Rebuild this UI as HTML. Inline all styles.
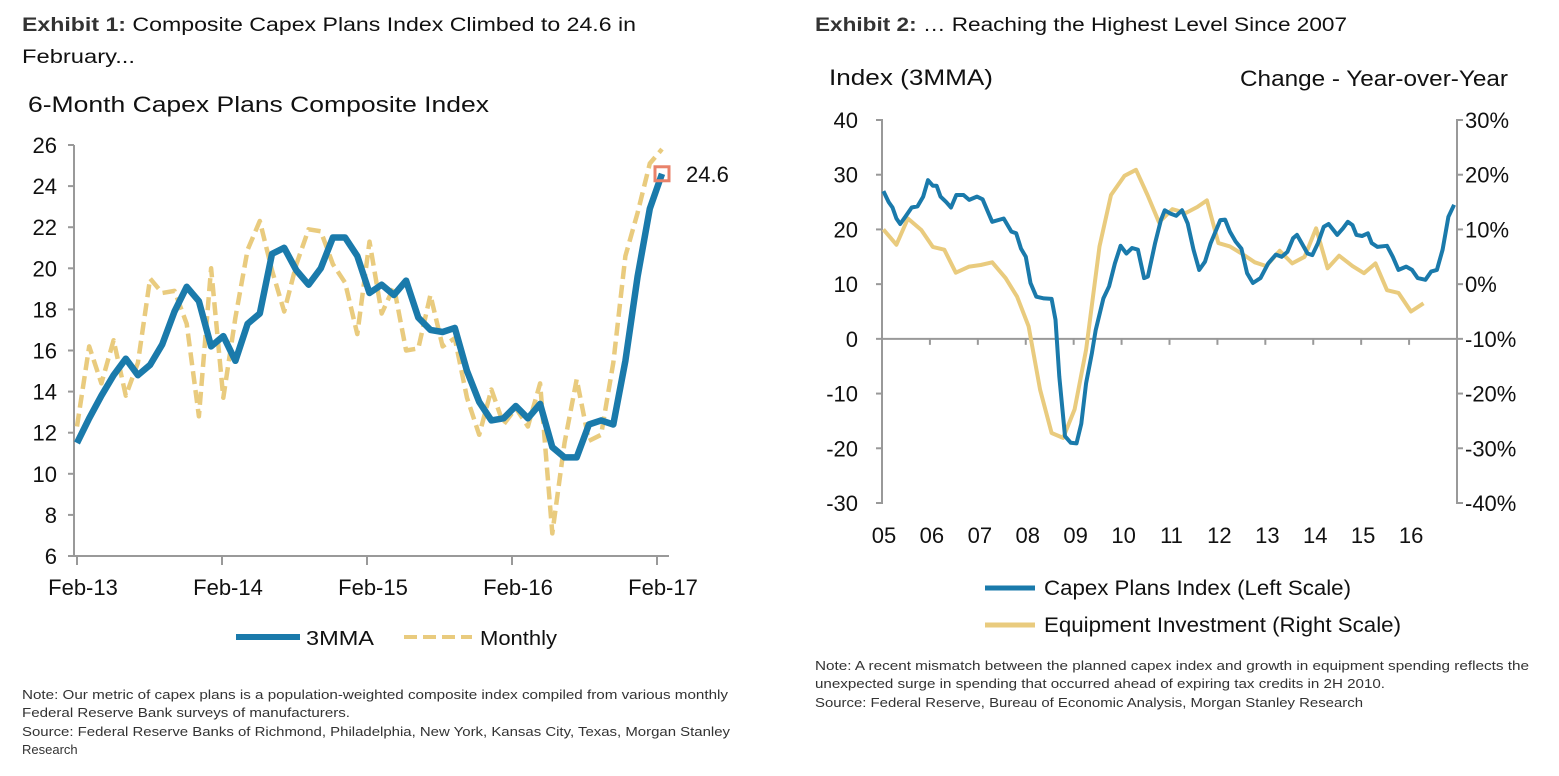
<!DOCTYPE html>
<html><head><meta charset="utf-8">
<style>
html,body{margin:0;padding:0;background:#fff;}
svg{display:block;font-family:"Liberation Sans",Arial,sans-serif;}
</style></head>
<body>
<svg id="root" width="1559" height="776" viewBox="0 0 1559 776" xmlns="http://www.w3.org/2000/svg">
  <text x="22" y="31" font-size="19" fill="#111" textLength="614" lengthAdjust="spacingAndGlyphs"><tspan font-weight="bold" fill="#333">Exhibit 1:</tspan>  Composite Capex Plans Index Climbed to 24.6 in</text>
  <text x="22" y="63" font-size="19" fill="#111" textLength="113" lengthAdjust="spacingAndGlyphs">February...</text>
  <text x="28" y="112" font-size="22" fill="#111" textLength="461" lengthAdjust="spacingAndGlyphs">6-Month Capex Plans Composite Index</text>

  <g id="c1"></g>

  <g>
    <g>
      <line x1="236" y1="637" x2="300" y2="637" stroke="#1a7aab" stroke-width="6"/>
      <text x="306" y="645" font-size="20" fill="#111" textLength="68" lengthAdjust="spacingAndGlyphs">3MMA</text>
    </g>
    <g>
      <line x1="404" y1="637" x2="472" y2="637" stroke="#e9cb7e" stroke-width="4" stroke-dasharray="13,6"/>
      <text x="480" y="645" font-size="20" fill="#111" textLength="77" lengthAdjust="spacingAndGlyphs">Monthly</text>
    </g>
  </g>

  <g font-size="13" fill="#333">
    <text x="22" y="699" textLength="706" lengthAdjust="spacingAndGlyphs">Note: Our metric of capex plans is a population-weighted composite index compiled from various monthly</text>
    <text x="22" y="717" textLength="328" lengthAdjust="spacingAndGlyphs">Federal Reserve Bank surveys of manufacturers.</text>
    <text x="22" y="736" textLength="708" lengthAdjust="spacingAndGlyphs">Source: Federal Reserve Banks of Richmond, Philadelphia, New York, Kansas City, Texas, Morgan Stanley</text>
    <text x="22" y="754">Research</text>
  </g>

  <text x="815" y="31" font-size="19" fill="#111" textLength="532" lengthAdjust="spacingAndGlyphs"><tspan font-weight="bold" fill="#333">Exhibit 2:</tspan>  … Reaching the Highest Level Since 2007</text>
  <text x="829" y="85" font-size="22" fill="#111" textLength="164" lengthAdjust="spacingAndGlyphs">Index (3MMA)</text>
  <text x="1508" y="86" font-size="22" fill="#111" text-anchor="end" textLength="268" lengthAdjust="spacingAndGlyphs">Change - Year-over-Year</text>
  <g id="c2"></g>

  <g>
    <g>
      <line x1="985" y1="588" x2="1035" y2="588" stroke="#1a7aab" stroke-width="5"/>
      <text x="1044" y="595" font-size="21" fill="#111" textLength="307" lengthAdjust="spacingAndGlyphs">Capex Plans Index (Left Scale)</text>
    </g>
    <g>
      <line x1="985" y1="625" x2="1035" y2="625" stroke="#e9cb7e" stroke-width="5"/>
      <text x="1044" y="632" font-size="21" fill="#111" textLength="357" lengthAdjust="spacingAndGlyphs">Equipment Investment (Right Scale)</text>
    </g>
  </g>

  <g font-size="13" fill="#333">
    <text x="815" y="670" textLength="714" lengthAdjust="spacingAndGlyphs">Note: A recent mismatch between the planned capex index and growth in equipment spending reflects the</text>
    <text x="815" y="688" textLength="570" lengthAdjust="spacingAndGlyphs">unexpected surge in spending that occurred ahead of expiring tax credits in 2H 2010.</text>
    <text x="815" y="707" textLength="548" lengthAdjust="spacingAndGlyphs">Source: Federal Reserve, Bureau of Economic Analysis, Morgan Stanley Research</text>
  </g>
</svg>
<script>
// ---------- Chart 1 data ----------
const c1XLabels = ["Feb-13","Feb-14","Feb-15","Feb-16","Feb-17"];
const c1YTicks = [6,8,10,12,14,16,18,20,22,24,26];
const c1ThreeMMA = [11.5,12.7,13.8,14.8,15.6,14.8,15.3,16.3,17.9,19.1,18.4,16.2,16.7,15.5,17.3,17.8,20.7,21.0,19.9,19.2,20.0,21.5,21.5,20.6,18.8,19.2,18.7,19.4,17.6,17.0,16.9,17.1,15.0,13.5,12.6,12.7,13.3,12.7,13.4,11.3,10.8,10.8,12.4,12.6,12.4,15.5,19.6,22.9,24.6];
const c1Monthly = [12.3,16.2,14.4,16.5,13.8,15.4,19.5,18.8,18.9,17.3,12.8,20.0,13.7,17.6,20.9,22.3,19.9,17.9,20.2,21.9,21.8,20.2,19.3,16.8,21.3,17.8,19.1,16.0,16.1,18.7,16.2,16.6,13.7,11.9,14.1,12.4,13.2,12.3,14.4,7.1,11.5,14.6,11.6,11.9,15.4,20.6,22.7,25.1,25.8];
const c1Latest = 24.6;

// ---------- Chart 2 data ----------
const c2XLabels = ["05","06","07","08","09","10","11","12","13","14","15","16"];
const c2LeftTicks = [-30,-20,-10,0,10,20,30,40];
const c2RightTicks = ["-40%","-30%","-20%","-10%","0%","10%","20%","30%"];
const capexDates = [2005.03,2005.14,2005.22,2005.30,2005.38,2005.50,2005.62,2005.74,2005.86,2005.96,2006.06,2006.14,2006.22,2006.34,2006.44,2006.55,2006.70,2006.82,2006.98,2007.10,2007.22,2007.30,2007.54,2007.70,2007.80,2007.90,2008.00,2008.10,2008.22,2008.38,2008.54,2008.62,2008.70,2008.82,2008.94,2009.06,2009.16,2009.26,2009.38,2009.46,2009.62,2009.74,2009.86,2009.98,2010.10,2010.22,2010.34,2010.47,2010.55,2010.70,2010.82,2010.90,2011.02,2011.14,2011.26,2011.38,2011.50,2011.62,2011.74,2011.86,2012.06,2012.16,2012.26,2012.38,2012.50,2012.62,2012.74,2012.90,2013.06,2013.22,2013.34,2013.46,2013.58,2013.66,2013.76,2013.88,2013.98,2014.10,2014.22,2014.32,2014.42,2014.50,2014.62,2014.72,2014.82,2014.90,2015.02,2015.14,2015.22,2015.34,2015.54,2015.66,2015.78,2015.94,2016.06,2016.18,2016.34,2016.46,2016.58,2016.70,2016.82,2016.94,2017.06];
const capexValues = [27,25,24,22,21,22.5,24,24.2,26,29,28,28,26,25,24,26.3,26.3,25.4,26,25.5,23,21.4,22,19.6,19.3,16.5,15,10.2,7.7,7.4,7.3,3.5,-6.9,-17.8,-19,-19.1,-15.5,-8.1,-2.6,1.6,7.4,9.6,13.8,17,15.6,16.6,16.3,11.1,11.4,17.5,21.7,23.5,22.9,22.5,23.5,21.1,16.3,12.6,14.1,17.5,21.7,21.8,19.6,17.8,16.5,12,10.2,11.1,13.8,15.4,15,15.9,18.4,19,17.5,15.6,15.3,17.5,20.5,21,19.9,19,20.2,21.4,20.8,19,18.8,19.3,17.5,16.8,17,15,12.6,13.2,12.6,11.1,10.8,12.3,12.6,16.3,22.3,24.5];
const equipDates = [2005.03,2005.30,2005.54,2005.82,2006.06,2006.30,2006.54,2006.82,2007.06,2007.30,2007.58,2007.82,2008.06,2008.30,2008.54,2008.78,2009.02,2009.26,2009.54,2009.78,2010.06,2010.30,2010.54,2010.78,2011.06,2011.34,2011.58,2011.78,2012.02,2012.26,2012.54,2012.78,2013.02,2013.30,2013.56,2013.82,2014.06,2014.30,2014.54,2014.82,2015.06,2015.30,2015.54,2015.78,2016.04,2016.30,2016.54];
const equipValues = [10,7.2,12,9.9,6.8,6.3,2.1,3.2,3.5,4,1.1,-2.3,-7.7,-19.3,-27.2,-28.1,-22.9,-12,6.9,16.3,19.8,20.9,16.3,11.3,13.7,13,14.1,15.3,7.5,6.9,5.4,4,3.3,6.1,3.8,5,10.2,2.9,5.2,3.3,2,3.8,-1.1,-1.6,-5,-3.5];

const NS = "http://www.w3.org/2000/svg";
function mk(tag, attrs, parent){const e=document.createElementNS(NS,tag);for(const k in attrs)e.setAttribute(k,attrs[k]);parent.appendChild(e);return e;}

(function(){
  const g = document.getElementById('c1');
  const x0=77, x1=662, tx1=657, yTop=145, yBot=556;
  const n = c1ThreeMMA.length;
  const xs = i => x0 + (x1-x0)*i/(n-1);
  const ys = v => yBot - (v-6)/(26-6)*(yBot-yTop);
  const axis = mk('path',{d:`M74 ${yTop} V${yBot} H669`,stroke:'#999','stroke-width':2,fill:'none'},g);
  
  
  c1YTicks.forEach(v=>{
    const t=mk('line',{x1:68,x2:74,y1:ys(v),y2:ys(v),stroke:'#999','stroke-width':2},g);
    
    
    const l=mk('text',{x:57,y:ys(v)+8,'font-size':22,'text-anchor':'end',fill:'#111'},g);
    l.textContent=v;
    
    
  });
  c1XLabels.forEach((s,i)=>{
    const x = x0 + (tx1-x0)*i/(c1XLabels.length-1);
    const t=mk('line',{x1:x,x2:x,y1:556,y2:565,stroke:'#999','stroke-width':2},g);
    
    
    const l=mk('text',{x:x+6,y:595,'font-size':22,'text-anchor':'middle',fill:'#111'},g);
    l.textContent=s;
    
    
  });
  const pm = c1Monthly.map((v,i)=>(i?'L':'M')+xs(i).toFixed(1)+' '+ys(v).toFixed(1)).join(' ');
  const m=mk('path',{d:pm,stroke:'#e9cb7e','stroke-width':4.5,fill:'none','stroke-dasharray':'13,6','stroke-linejoin':'round'},g);
  
  
  const pa = c1ThreeMMA.map((v,i)=>(i?'L':'M')+xs(i).toFixed(1)+' '+ys(v).toFixed(1)).join(' ');
  const a=mk('path',{d:pa,stroke:'#1a7aab','stroke-width':6.5,fill:'none','stroke-linejoin':'round'},g);
  
  
  const lx=xs(n-1), ly=ys(c1Latest);
  const mkr=mk('rect',{x:lx-7,y:ly-7,width:14,height:14,fill:'none',stroke:'#e8826a','stroke-width':3},g);
  
  
  const lt=mk('text',{x:lx+24,y:ly+8,'font-size':22,fill:'#111'},g);
  lt.textContent=c1Latest;
  
  
})();

(function(){
  const g=document.getElementById('c2');
  const xL=882, xR=1457, yTop=120, yBot=503;
  const xs = d => xL + (d-2005)/12*(xR-xL);
  const yl = v => yBot - (v+30)/70*(yBot-yTop);
  const yr = v => yBot - (v+40)/70*(yBot-yTop);
  const ax=mk('path',{d:`M876 ${yTop} H882 V${yBot} H876 M1463 ${yTop} H1457 V${yBot} H1463`,stroke:'#999','stroke-width':2,fill:'none'},g);
  
  
  const zero=mk('line',{x1:xL,x2:xR,y1:yl(0),y2:yl(0),stroke:'#999','stroke-width':2},g);
  
  
  c2LeftTicks.forEach(v=>{
    const t=mk('line',{x1:876,x2:882,y1:yl(v),y2:yl(v),stroke:'#999','stroke-width':2},g);
    
    
    const l=mk('text',{x:858,y:yl(v)+8,'font-size':22,'text-anchor':'end',fill:'#111'},g);
    l.textContent=v;
    
    
  });
  c2RightTicks.forEach((s,i)=>{
    const v=-40+10*i;
    const t=mk('line',{x1:1457,x2:1463,y1:yr(v),y2:yr(v),stroke:'#999','stroke-width':2},g);
    
    
    const l=mk('text',{x:1465,y:yr(v)+8,'font-size':22,fill:'#111'},g);
    l.textContent=s;
    
    
  });
  c2XLabels.forEach((s,i)=>{
    const x=xs(2005+i);
    const t=mk('line',{x1:x,x2:x,y1:yl(0),y2:yl(0)+6,stroke:'#999','stroke-width':2},g);
    
    
    const l=mk('text',{x:x+2,y:543,'font-size':22,'text-anchor':'middle',fill:'#111'},g);
    l.textContent=s;
    
    
  });
  const pe=equipValues.map((v,i)=>(i?'L':'M')+xs(equipDates[i]).toFixed(1)+' '+yr(v).toFixed(1)).join(' ');
  const e=mk('path',{d:pe,stroke:'#e9cb7e','stroke-width':4,fill:'none','stroke-linejoin':'round'},g);
  
  
  const pc=capexValues.map((v,i)=>(i?'L':'M')+xs(capexDates[i]).toFixed(1)+' '+yl(v).toFixed(1)).join(' ');
  const c=mk('path',{d:pc,stroke:'#1a7aab','stroke-width':4,fill:'none','stroke-linejoin':'round'},g);
  
  
})();
</script>
</body></html>
